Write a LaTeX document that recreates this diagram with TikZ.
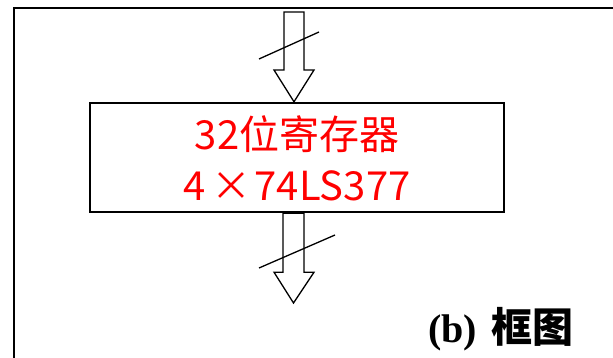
\documentclass[tikz,border=0pt]{standalone}
\usepackage{fontspec}
\setmainfont{Liberation Serif}
\newfontfamily\cjk{Noto Sans CJK SC}
\usetikzlibrary{calc}
\begin{document}
\begin{tikzpicture}[x=1pt,y=-1pt,
  frame/.style={line width=2.2pt},
  regbox/.style={draw,line width=2.4pt,minimum width=414pt,minimum height=109pt,inner sep=0pt},
  blockarrow/.style={draw,line width=1.3pt,fill=white,line join=miter},
  slash/.style={line width=1.3pt}]
\useasboundingbox (0,0) rectangle (613,358);
\begin{scope}
\clip (0,0) rectangle (613,358);
\draw[frame] (13.8,400) -- (13.8,8) -- (650,8);
\end{scope}
% register box
\node[regbox] (reg) at (297,157.5) {};
\node[text=red,font=\cjk\fontsize{40}{51}\selectfont,align=center,inner sep=0pt] (regtxt) at (297,158)
  {32位寄存器\\4\kern6pt×\kern3pt 74LS377};
% top arrow
\coordinate (intop) at (294,12);
\coordinate (intip) at (reg.north -| intop);
\draw[blockarrow] ($(intop)+(-10,0)$) -- ($(intop)+(10,0)$) -- ($(intop)+(10,58)$) -- ($(intop)+(20,58)$)
  -- (intip) -- ($(intop)+(-20,58)$) -- ($(intop)+(-10,58)$) -- cycle;
\coordinate (s1a) at (259,59);
\coordinate (s1b) at (319,32);
\draw[slash] (s1a) -- (s1b);
% bottom arrow
\coordinate (outtop) at (reg.south -| 293.5,0);
\coordinate (outtip) at (293.5,303);
\draw[blockarrow] ($(outtop)+(-10.5,0)$) -- ($(outtop)+(10.5,0)$) -- ($(outtop)+(10.5,59)$) -- ($(outtop)+(20.5,59)$)
  -- (outtip) -- ($(outtop)+(-19.5,59)$) -- ($(outtop)+(-10.5,59)$) -- cycle;
\coordinate (s2a) at (259,268);
\coordinate (s2b) at (335,235);
\draw[slash] (s2a) -- (s2b);
% caption
\node[anchor=base west,inner sep=0pt,font=\fontsize{40}{48}\selectfont] (cap) at (428,342)
  {\textbf{(b)}\kern14pt{\cjk\bfseries\fontsize{41}{48}\selectfont 框图}};
\end{tikzpicture}
\end{document}
